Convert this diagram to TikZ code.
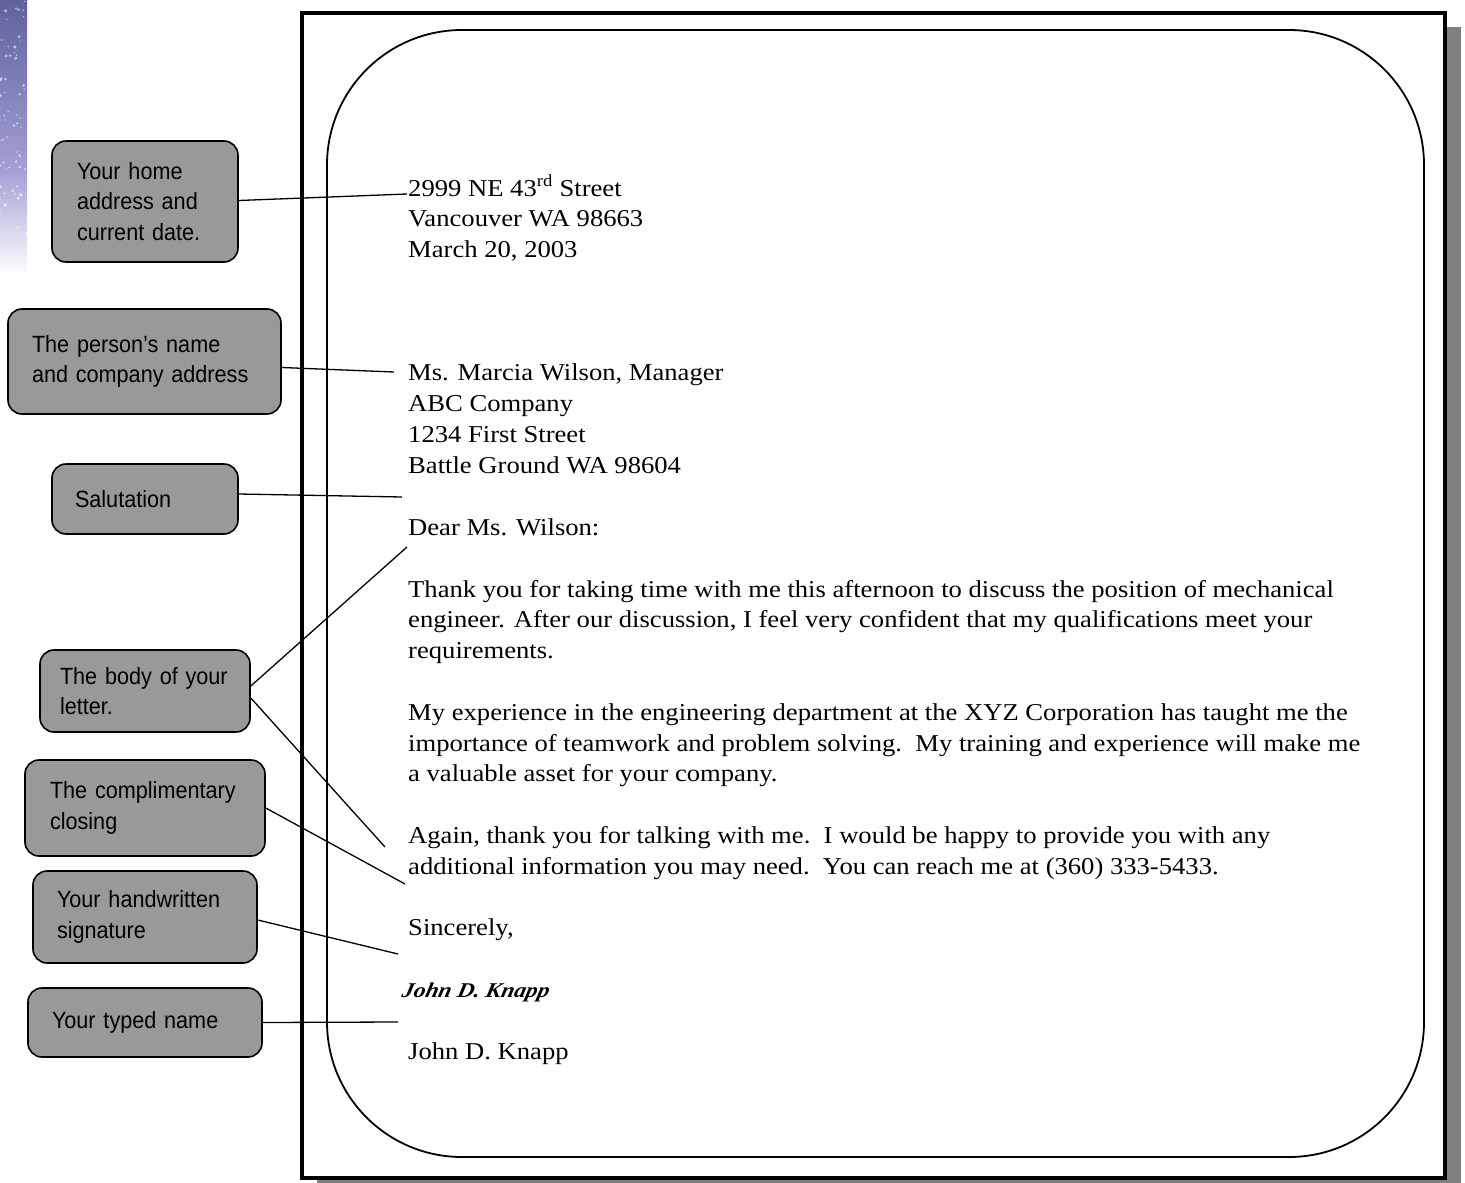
\documentclass[tikz,border=0pt]{standalone}
\usepackage{fontspec}
\usepackage{graphicx}
\usepackage{tikz}
\usetikzlibrary{calc}
\newfontfamily\lettfont{Liberation Serif}
\newfontfamily\calloutfont[FakeStretch=0.92]{Liberation Sans}
\newfontfamily\signfont[FakeSlant=0.2]{Liberation Serif}
\newcommand{\wide}[1]{\scalebox{1.1}[1]{#1}}
\definecolor{mygray1}{RGB}{153, 153, 153}
\definecolor{mygray2}{RGB}{128, 128, 128}
\definecolor{mysky1}{RGB}{96, 98, 156}
\definecolor{mysky2}{RGB}{162, 160, 212}
\tikzset{>=latex}
\tikzset{
  callout/.style = {draw, fill=mygray1, line width=1.6pt, rounded corners=14pt,
    align=left, inner xsep=25pt, inner ysep=0pt,
    font=\calloutfont\fontsize{23.5}{30.5}\selectfont},
  letter/.style = {anchor=base west, inner sep=0pt,
    font=\lettfont\fontsize{24.2}{28}\selectfont},
  pointer/.style = {line width=1.3pt}
}

\begin{document}
\begin{tikzpicture}[x=1pt, y=-1pt]
\useasboundingbox (0,0) rectangle (1465,1183);
% sky strip
\shade[top color=mysky1, bottom color=mysky2] (0,0) rectangle (27,170);
\shade[top color=mysky2, bottom color=white] (0,170) rectangle (27,275);
\pgfmathsetseed{11}
\foreach \i in {1,...,60}{
  \pgfmathsetmacro{\sx}{rnd*27}
  \pgfmathsetmacro{\sy}{rnd*240}
  \fill[white, opacity=0.6] (\sx, \sy) circle (0.6+rnd*1.2);
}
% page
\fill[mygray2] (317, 27) rectangle (1461, 1195);
\draw[line width=4.5pt, fill=white] (302, 13) rectangle (1445, 1178);
\draw[line width=1.8pt, rounded corners=135pt] (327, 30) rectangle (1424, 1157);

% letter text
\node[letter] (street) at (408, 196) {\wide{2999 NE 43\textsuperscript{rd} Street}};
\node[letter] (city) at (408, 226.8) {\wide{Vancouver WA 98663}};
\node[letter] (date) at (408, 257.6) {\wide{March 20, 2003}};
\node[letter] (inside1) at (408, 380.9) {\wide{Ms. Marcia Wilson, Manager}};
\node[letter] (inside2) at (408, 411.7) {\wide{ABC Company}};
\node[letter] (inside3) at (408, 442.6) {\wide{1234 First Street}};
\node[letter] (inside4) at (408, 473.4) {\wide{Battle Ground WA 98604}};
\node[letter] (dear) at (408, 535.0) {\wide{Dear Ms. Wilson:}};
\node[letter] (para1a) at (408, 597) {\wide{Thank you for taking time with me this afternoon to discuss the position of mechanical}};
\node[letter] (para1b) at (408, 627.8) {\wide{engineer. After our discussion, I feel very confident that my qualifications meet your}};
\node[letter] (para1c) at (408, 658.6) {\wide{requirements.}};
\node[letter] (para2a) at (408, 720.2) {\wide{My experience in the engineering department at the XYZ Corporation has taught me the}};
\node[letter] (para2b) at (408, 751) {\wide{importance of teamwork and problem solving.\ \ My training and experience will make me}};
\node[letter] (para2c) at (408, 781.8) {\wide{a valuable asset for your company.}};
\node[letter] (para3a) at (408, 843.4) {\wide{Again, thank you for talking with me.\ \ I would be happy to provide you with any}};
\node[letter] (para3b) at (408, 874.2) {\wide{additional information you may need.\ \ You can reach me at (360) 333-5433.}};
\node[letter] (closing) at (408, 935.8) {\wide{Sincerely,}};
\node[letter, font=\signfont\fontsize{21}{24}\selectfont\bfseries\itshape] (signed) at (401, 997.3) {\scalebox{1.11}[1]{John D. Knapp}};
\node[letter] (typed) at (408, 1059) {\wide{John D. Knapp}};

% callouts
\node[callout, minimum height=121pt, text width=136pt] (home) at (145, 201.5) {Your home\\address and\\current date.};
\node[callout, minimum height=105pt, text width=225pt, inner xsep=24pt] (person) at (144.5, 361.5) {The person’s name\\and company address};
\node[callout, minimum height=70pt, text width=140pt, inner xsep=23pt] (salut) at (145, 499) {Salutation};
\node[callout, minimum height=82pt, text width=170pt, inner xsep=20pt] (body) at (145, 691) {The body of your\\letter.};
\node[callout, minimum height=96pt, text width=190pt] (compl) at (145, 808) {The complimentary\\closing};
\node[callout, minimum height=92pt, text width=176pt, inner xsep=24pt] (sign) at (145, 917) {Your handwritten\\signature};
\node[callout, minimum height=69pt, text width=186pt, inner xsep=24pt] (name) at (145, 1022.5) {Your typed name};

% pointer ends
\coordinate (homeend) at (407, 194);
\coordinate (personend) at (394, 372);
\coordinate (salutend) at (402, 497);
\coordinate (bodyend1) at (407, 547);
\coordinate (bodyend2) at (385, 847);
\coordinate (complend) at (405, 884);
\coordinate (signend) at (398, 954);
\coordinate (nameend) at (398, 1022);

\draw[pointer] ($(home.east)+(0,-1)$) -- (homeend);
\draw[pointer] ($(person.east)+(0,6)$) -- (personend);
\draw[pointer] ($(salut.east)+(0,-5)$) -- (salutend);
\draw[pointer] ($(body.east)+(0,-5)$) -- (bodyend1);
\draw[pointer] ($(body.east)+(0,7)$) -- (bodyend2);
\draw[pointer] (compl.east) -- (complend);
\draw[pointer] ($(sign.east)+(0,3)$) -- (signend);
\draw[pointer] (name.east) -- (nameend);
\end{tikzpicture}
\end{document}
